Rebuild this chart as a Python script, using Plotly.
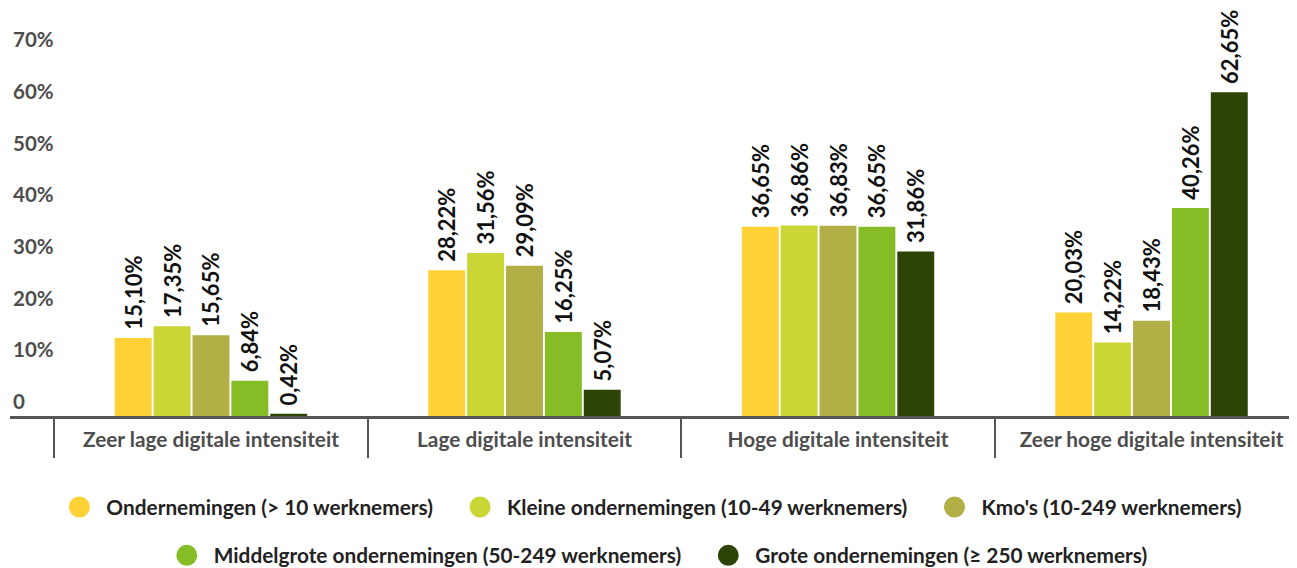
import plotly.graph_objects as go

categories = ["Zeer lage digitale intensiteit", "Lage digitale intensiteit",
              "Hoge digitale intensiteit", "Zeer hoge digitale intensiteit"]

series_names = ["Ondernemingen (> 10 werknemers)",
                "Kleine ondernemingen (10-49 werknemers)",
                "Kmo's (10-249 werknemers)",
                "Middelgrote ondernemingen (50-249 werknemers)",
                "Grote ondernemingen (≥ 250 werknemers)"]

ondernemingen = [15.10, 28.22, 36.65, 20.03]
kleine = [17.35, 31.56, 36.86, 14.22]
kmo = [15.65, 29.09, 36.83, 18.43]
middelgrote = [6.84, 16.25, 36.65, 40.26]
grote = [0.42, 5.07, 31.86, 62.65]

colors = ["#FED236", "#C9D636", "#B1AF45", "#86BC25", "#2E4406"]

y_tickvals = [0, 10, 20, 30, 40, 50, 60, 70]
y_ticktext = ["0", "10%", "20%", "30%", "40%", "50%", "60%", "70%"]

values = [ondernemingen, kleine, kmo, middelgrote, grote]

FONT = "Lato"
NBSP = "\u00a0"

fig = go.Figure()
for name, vals, col in zip(series_names, values, colors):
    fig.add_trace(go.Bar(
        x=categories, y=vals, name=name, marker_color=col,
        marker_line_width=0,
        text=[NBSP + f"{v:.2f}".replace(".", ",") + "%" for v in vals],
        textposition="outside", textangle=-90, constraintext="none",
        textfont=dict(family=FONT, size=22, color="#111111", weight="bold"),
        cliponaxis=False, showlegend=False,
    ))

# legend entries (circles)
for i, (name, col) in enumerate(zip(series_names, colors)):
    fig.add_trace(go.Scatter(
        x=[None], y=[None], mode="markers", name=name + NBSP * 3,
        marker=dict(symbol="circle", size=18, color=col,
                    line=dict(color=col, width=5)),
        legend="legend" if i < 3 else "legend2",
    ))

legend_common = dict(orientation="h", xanchor="center", yanchor="middle",
                     itemwidth=44,
                     font=dict(family=FONT, size=20.8, color="#222222", weight="bold"),
                     bgcolor="rgba(0,0,0,0)", itemclick=False, itemdoubleclick=False)

fig.update_layout(
    width=1289, height=560,
    margin=dict(l=2, r=0, t=5, b=152, autoexpand=False),
    paper_bgcolor="white", plot_bgcolor="white",
    font=dict(family=FONT, weight="bold"),
    barmode="group", bargap=0.38, bargroupgap=0.05,
    showlegend=True,
    legend=dict(x=0.503, y=-0.227, **legend_common),
    legend2=dict(x=0.508, y=-0.347, **legend_common),
    xaxis=dict(
        type="category", categoryorder="array", categoryarray=categories,
        range=[-0.641, 3.464],
        showline=True, linecolor="#555555", linewidth=3,
        ticks="outside", tickson="boundaries", ticklen=39, tickwidth=2,
        tickcolor="#555555", ticklabelstandoff=3,
        tickfont=dict(family=FONT, size=20.8, color="#4d4d4d", weight="bold"),
        showgrid=False, zeroline=False, automargin=False,
    ),
    yaxis=dict(
        range=[0, 78], tickvals=y_tickvals, ticktext=y_ticktext,
        ticklabelposition="inside top", ticks="",
        tickfont=dict(family=FONT, size=20.5, color="#4d4d4d", weight="bold"),
        showgrid=False, zeroline=False, showline=False, automargin=False,
    ),
)

fig.write_html("out.html")
